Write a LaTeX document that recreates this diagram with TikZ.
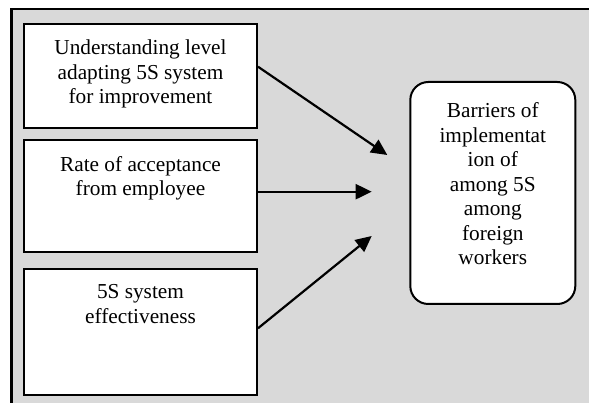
\documentclass[tikz,border=0pt]{standalone}
\usepackage{fontspec}
\setmainfont{Liberation Serif}
\usetikzlibrary{arrows.meta}
\definecolor{panelgray}{RGB}{217,217,217}
\tikzset{
  panel/.style={draw=black, line width=2.4pt, fill=panelgray},
  factorbox/.style={draw=black, line width=2pt, fill=white, inner sep=0pt, anchor=north west},
  outcomebox/.style={draw=black, line width=2pt, fill=white, rounded corners=18pt, inner sep=0pt, anchor=north west},
  boxtext/.style={inner sep=0pt, align=center, anchor=north, font=\fontsize{21.3}{24.5}\selectfont},
  link/.style={line width=2.2pt, -{Triangle[length=16pt,width=15pt]}}
}
\begin{document}
\begin{tikzpicture}[x=1pt, y=-1pt]
  \useasboundingbox (0,0) rectangle (589,403);
  \fill[white] (0,0) rectangle (589,403);
  \clip (0,0) rectangle (589,403);
  % outer panel, running past the right and bottom edges
  \draw[panel] (11.5,9) rectangle (610,430);

  % factor boxes
  \node[factorbox, minimum width=233pt, minimum height=104pt] (f1) at (23,23.3) {};
  \node[factorbox, minimum width=233pt, minimum height=112pt] (f2) at (23,139.5) {};
  \node[factorbox, minimum width=233pt, minimum height=126pt] (f3) at (23,267.7) {};

  \node[boxtext] (t1) at ([yshift=-16.5pt]f1.north) {Understanding level\\adapting 5S system\\for improvement};
  \node[boxtext] (t2) at ([yshift=-16.5pt]f2.north) {Rate of acceptance\\from employee};
  \node[boxtext] (t3) at ([yshift=-16.5pt]f3.north) {5S system\\effectiveness};

  % outcome box
  \node[outcomebox, minimum width=165pt, minimum height=222pt] (out) at (409.3,81) {};
  \node[boxtext] (tout) at ([yshift=-21.5pt]out.north) {Barriers of\\implementat\\ion of\\among 5S\\among\\foreign\\workers};

  % arrow end points
  \coordinate (e1) at (387.3,155);
  \coordinate (e2) at (371.7,191.7);
  \coordinate (e3) at (371.7,236);

  \draw[link] (f1.east |- 0,66.7) -- (e1);
  \draw[link] (f2.east |- 0,191.7) -- (e2);
  \draw[link] (f3.east |- 0,328.3) -- (e3);
\end{tikzpicture}
\end{document}
